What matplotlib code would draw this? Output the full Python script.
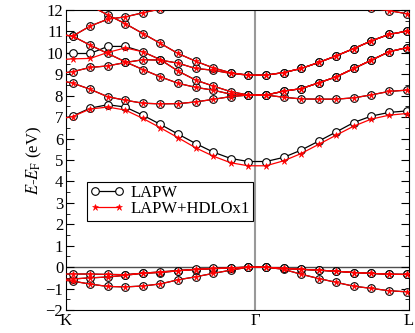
import matplotlib
matplotlib.use("Agg")
import matplotlib.pyplot as plt
from matplotlib.ticker import MultipleLocator

plt.rcParams['font.family'] = ['Liberation Serif', 'DejaVu Serif']
plt.rcParams['mathtext.fontset'] = 'stix'

# path positions: K=0, Gamma=1, L=1.815 ; first/last entries are the K and L ends
kpath = [0.0,
         0.035, 0.128, 0.221, 0.314, 0.407, 0.500, 0.593, 0.686, 0.779, 0.872,
         0.965, 1.058, 1.151, 1.244, 1.337, 1.430, 1.523, 1.616, 1.709, 1.802,
         1.815]
k_ticks = [0.0, 1.0, 1.815]
k_labels = ['K', 'Γ', 'L']

# bands, LAPW
b1_lapw = [6.98, 7.05, 7.42, 7.58, 7.47, 7.09, 6.66, 6.21, 5.77, 5.37, 5.07,
           4.93, 4.93, 5.12, 5.46, 5.88, 6.31, 6.75, 7.05, 7.22, 7.29, 7.30]
b2 = [8.65, 8.59, 8.30, 7.95, 7.79, 7.65, 7.62, 7.63, 7.71, 7.83, 7.96,
      8.03, 8.03, 7.93, 7.85, 7.84, 7.84, 7.90, 8.04, 8.20, 8.26, 8.27]
bC = [10.82, 10.78, 10.36, 9.97, 9.58, 9.22, 8.88, 8.58, 8.39, 8.26, 8.07,
      8.03, 8.03, 8.21, 8.33, 8.60, 8.88, 9.27, 9.66, 10.05, 10.24, 10.25]
bD_lapw = [9.97, 9.97, 9.97, 10.30, 10.30, 10.05, 9.68, 9.15, 8.73, 8.45, 8.19,
           8.03, 8.03, 8.21, 8.33, 8.60, 8.88, 9.27, 9.66, 10.05, 10.24, 10.25]
bE = [9.08, 9.12, 9.32, 9.39, 9.55, 9.68, 9.66, 9.52, 9.27, 9.19, 9.04,
      8.96, 8.96, 9.08, 9.27, 9.55, 9.86, 10.20, 10.56, 10.86, 11.01, 11.02]
bB = [12.70, 12.60, 12.20, 11.77, 11.36, 10.90, 10.44, 9.97, 9.61, 9.30, 9.07,
      8.96, 8.96, 9.08, 9.27, 9.55, 9.86, 10.20, 10.56, 10.86, 11.01, 11.02]
bA = [10.82, 10.78, 11.25, 11.57, 11.68, 11.87, 12.05, 12.20, 12.40, 12.50, 12.60,
      12.60, 12.60, 12.60, 12.50, 12.40, 12.30, 12.20, 12.08, 11.97, 11.83, 11.82]
v1 = [-0.32, -0.32, -0.32, -0.34, -0.35, -0.28, -0.22, -0.16, -0.10, -0.06, -0.03,
      0.0, 0.0, -0.06, -0.10, -0.14, -0.19, -0.25, -0.29, -0.33, -0.34, -0.34]
v2 = [-0.56, -0.55, -0.50, -0.46, -0.38, -0.28, -0.25, -0.17, -0.11, -0.07, -0.04,
      0.0, 0.0, -0.06, -0.10, -0.14, -0.19, -0.25, -0.29, -0.33, -0.34, -0.34]
v3 = [-0.62, -0.65, -0.79, -0.90, -0.92, -0.88, -0.78, -0.59, -0.45, -0.29, -0.14,
      0.0, 0.0, -0.10, -0.33, -0.53, -0.71, -0.89, -0.99, -1.10, -1.15, -1.16]

# bands that differ with HDLOx1
b1_hdlo = [6.97, 7.03, 7.38, 7.47, 7.33, 6.94, 6.50, 6.04, 5.57, 5.18, 4.87,
           4.73, 4.73, 4.96, 5.30, 5.73, 6.16, 6.58, 6.91, 7.09, 7.17, 7.18]
bD_hdlo = [9.70, 9.72, 9.74, 10.02, 10.23, 10.05, 9.68, 9.15, 8.73, 8.45, 8.19,
           8.03, 8.03, 8.21, 8.33, 8.60, 8.88, 9.27, 9.66, 10.05, 10.24, 10.25]

lapw = [v3, v2, v1, b1_lapw, b2, bC, bD_lapw, bE, bB, bA]
hdlo = [v3, v2, v1, b1_hdlo, b2, bC, bD_hdlo, bE, bB, bA]

fig = plt.figure(figsize=(4.15, 3.33), dpi=100)
ax = fig.add_axes([0.159, 0.069, 0.8265, 0.901])

ax.axvline(1.0, color='0.6', lw=1.5, zorder=1)
ax.axhline(0.0, color='0.3', lw=1.0, zorder=1)

marks = slice(1, -1)
for i, b in enumerate(lapw):
    ax.plot(kpath, b, '-', color='black', lw=0.9, marker='o', markevery=marks,
            markersize=5.5, markerfacecolor='white', markeredgecolor='black',
            markeredgewidth=0.8, zorder=2, label='LAPW' if i == 0 else None)
for i, b in enumerate(hdlo):
    ax.plot(kpath, b, '-', color='red', lw=0.9, marker='*', markevery=marks,
            markersize=4.5, markeredgewidth=0.4, zorder=3,
            label='LAPW+HDLOx1' if i == 0 else None)

ax.set_xlim(0, 1.815)
ax.set_ylim(-2, 12)
ax.set_xticks(k_ticks)
ax.set_xticklabels(k_labels)
ax.tick_params(axis='x', length=0, labelsize=12, pad=2)
ax.yaxis.set_major_locator(MultipleLocator(1))
ax.yaxis.set_minor_locator(MultipleLocator(0.5))
ax.tick_params(axis='y', which='both', direction='in', right=True, labelsize=12, pad=2)
ax.tick_params(axis='y', which='major', length=6)
ax.tick_params(axis='y', which='minor', length=3)
ax.set_ylabel(r'$E$-$E_{\mathrm{F}}$ (eV)', fontsize=12, labelpad=1)

leg = ax.legend(loc='upper left', bbox_to_anchor=(0.061, 0.427), borderaxespad=0,
                fancybox=False, edgecolor='black', framealpha=1, fontsize=12,
                numpoints=2, handlelength=2.0, handletextpad=0.4,
                labelspacing=0.0, borderpad=0.2)
leg.get_frame().set_linewidth(0.8)

fig.savefig('out.png', dpi=100)
